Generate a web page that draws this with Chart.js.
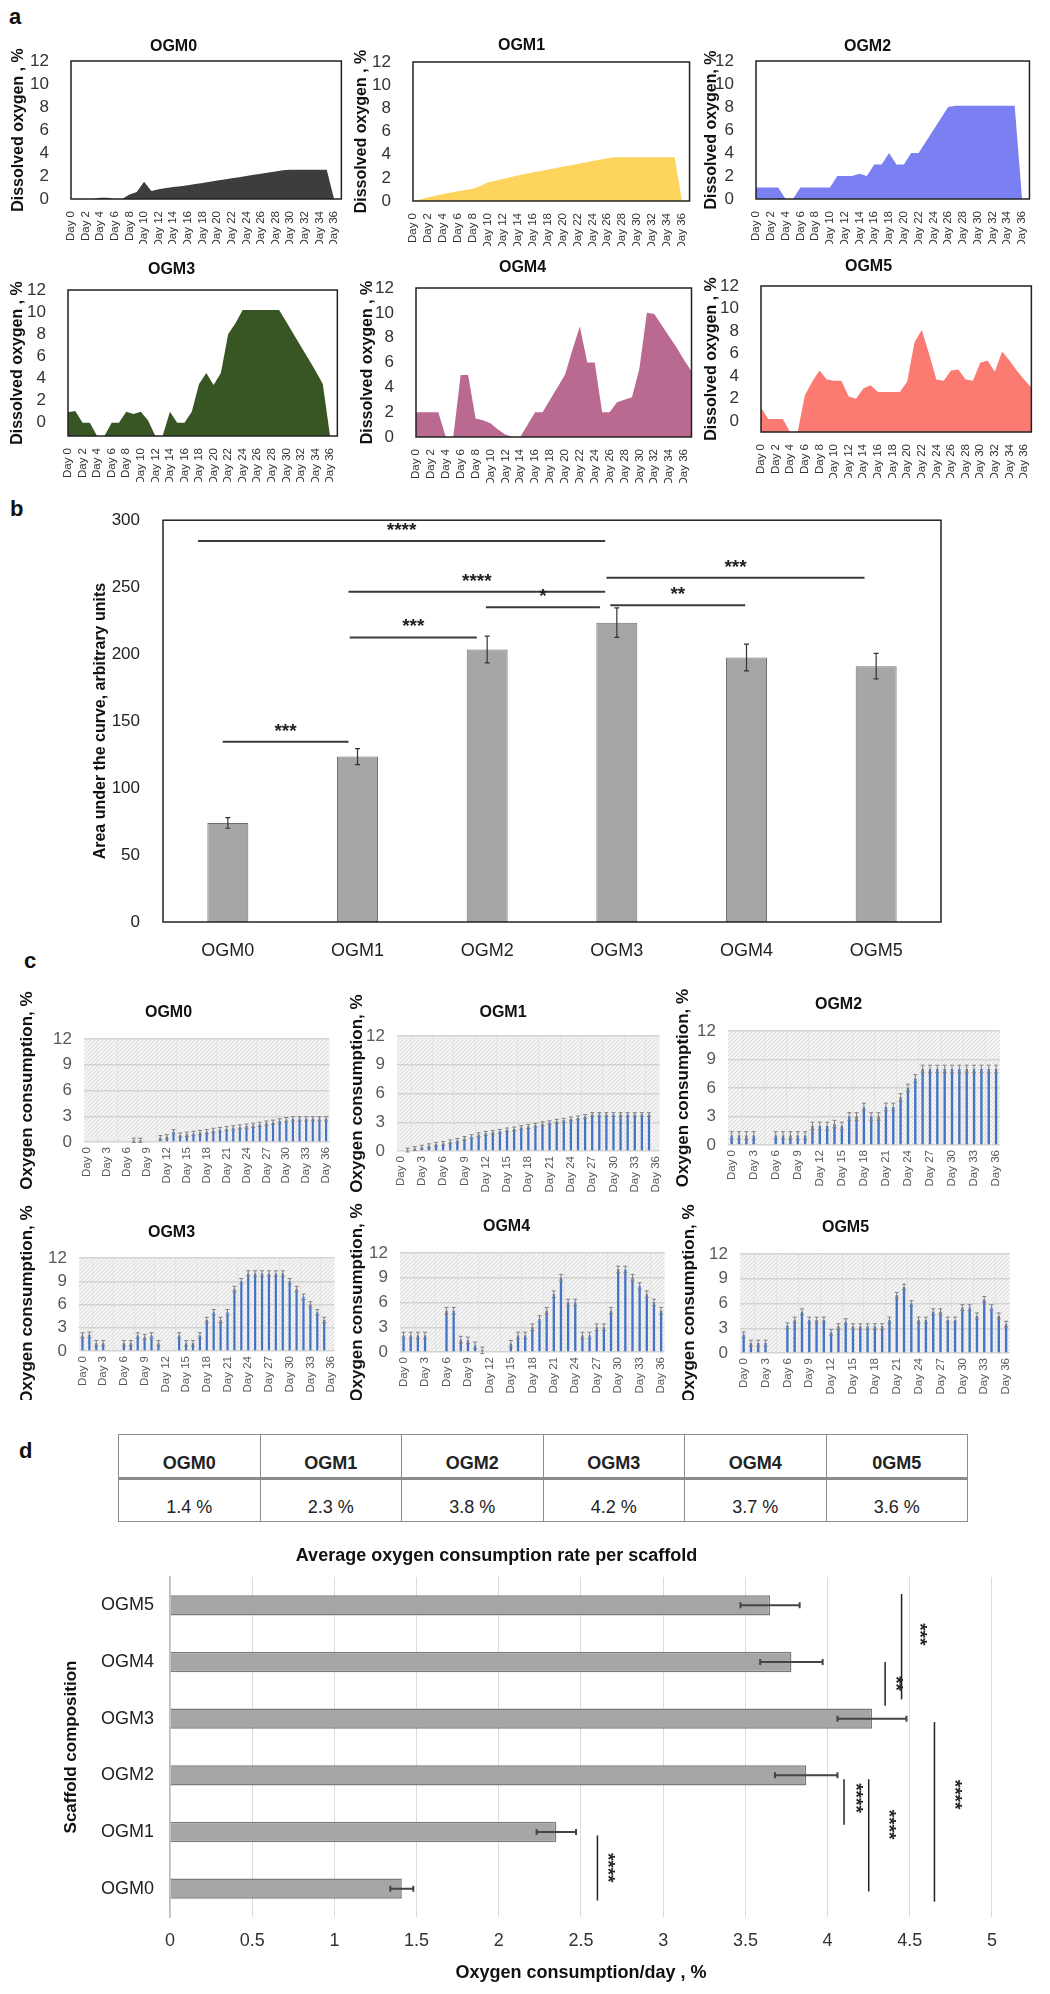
<!DOCTYPE html>
<html>
<head>
<meta charset="utf-8">
<script src="https://cdn.jsdelivr.net/npm/chart.js@4.4.0/dist/chart.umd.min.js"></script>
<style>
html,body{margin:0;padding:0;background:#fff;}
body{width:1050px;height:1994px;position:relative;overflow:hidden;font-family:"Liberation Sans",Arial,sans-serif;}
.box{position:absolute;}
.letter{position:absolute;font:bold 22px "Liberation Sans",Arial,sans-serif;color:#111;line-height:1;}
#tbl{position:absolute;left:118px;top:1434px;width:850px;border-collapse:collapse;table-layout:fixed;
  font-family:"Liberation Sans",Arial,sans-serif;color:#222;}
#tbl th,#tbl td{border:1px solid #8c8c8c;text-align:center;vertical-align:bottom;padding:0 0 3px 0;font-size:18px;}
#tbl th{height:39px;border-bottom:3px solid #8c8c8c;font-weight:bold;}
#tbl td{height:38px;}
</style>
</head>
<body>
<div class="letter" style="left:9px;top:6px">a</div>
<div class="letter" style="left:10px;top:498px">b</div>
<div class="letter" style="left:24px;top:950px">c</div>
<div class="letter" style="left:19px;top:1440px">d</div>
<table id="tbl"><tr id="thead"></tr><tr id="tbody"></tr></table>
<script>
// ---- data ----
const groups = ['OGM0','OGM1','OGM2','OGM3','OGM4','OGM5'];
const days = ['Day 0','Day 1','Day 2','Day 3','Day 4','Day 5','Day 6','Day 7','Day 8','Day 9',
  'Day 10','Day 11','Day 12','Day 13','Day 14','Day 15','Day 16','Day 17','Day 18','Day 19',
  'Day 20','Day 21','Day 22','Day 23','Day 24','Day 25','Day 26','Day 27','Day 28','Day 29',
  'Day 30','Day 31','Day 32','Day 33','Day 34','Day 35','Day 36','Day 37'];
const aTicks = [0,2,4,6,8,10,12];
const cTicks = [0,3,6,9,12];

// panel a : dissolved oxygen, %
const aOGM0 = [0,0,0,0,0.1,0.1,0,0,0.4,0.6,1.5,0.7,0.85,0.95,1.05,1.1,1.2,1.3,1.4,1.5,1.6,1.7,1.8,1.9,2.0,2.1,2.2,2.3,2.4,2.5,2.55,2.55,2.55,2.55,2.55,2.55,0,0];
const aOGM1 = [0,0.15,0.3,0.45,0.6,0.72,0.85,0.95,1.05,1.3,1.6,1.75,1.9,2.05,2.2,2.33,2.45,2.57,2.7,2.82,2.95,3.07,3.2,3.33,3.45,3.57,3.68,3.78,3.78,3.78,3.78,3.78,3.78,3.78,3.78,3.78,0,0];
const aOGM2 = [1,1,1,1,0,0,1,1,1,1,1,2,2,2,2.2,2,3,3,4,3,3,4,4,5,6,7,8,8.1,8.1,8.1,8.1,8.1,8.1,8.1,8.1,8.1,0,0];
const aOGM3 = [0.95,1.05,0,0,-1.2,-1.2,0,0,1,0.8,1,0.2,-1.2,-1.2,1,0,0,1,3.5,4.5,3.4,4.5,8,9,10.2,10.2,10.2,10.2,10.2,10.2,9.1,8,6.9,5.8,4.7,3.5,-1.2,-1.2];
const aOGM4 = [2,2,2,2,0,0,5,5,1.5,1.35,1.1,0.6,0.2,0,0,1,2,2,3,4,5,7,8.9,6,6,2,2,2.8,3,3.2,5.5,10,9.9,9.0,8.1,7.2,6.2,5.3];
const aOGM5 = [1.2,0.2,0.2,0.2,-1,-1,2.3,3.5,4.5,3.7,3.6,3.6,2.2,2.0,2.9,3.2,2.6,2.6,2.6,2.6,3.5,7.0,8.1,6.0,3.7,3.6,4.5,4.6,3.7,3.6,5.2,5.4,4.4,6.2,5.4,4.5,3.7,3.0];
const aMin = [0,0,0,-1.2,0,-0.95];
const aYTitles = ['Dissolved oxygen , %','Dissolved oxygen , %','Dissolved oxygen, %','Dissolved oxygen , %','Dissolved oxygen , %','Dissolved oxygen , %'];

// panel b : area under the curve
const bVals = [74,123.5,203.5,223.5,197.5,191];
const bErr = [4,6,10,11,10,9.5];
const bSig = [
  {from:-0.23, to:2.91, y:284.5, label:'****'},
  {from:0.93, to:2.91, y:246.5, label:'****'},
  {from:1.99, to:2.87, y:235, label:'*'},
  {from:0.94, to:1.92, y:212.5, label:'***'},
  {from:-0.04, to:0.93, y:134.5, label:'***'},
  {from:2.92, to:4.91, y:257, label:'***'},
  {from:2.95, to:3.99, y:236.5, label:'**'}
];

// panel c : oxygen consumption, % (Day 0 - Day 36)
const cOGM0 = [0,0,0,0,0,0,0,0.2,0.2,0,0,0.5,0.6,1.2,0.8,0.9,1.0,1.1,1.2,1.35,1.45,1.55,1.65,1.75,1.85,1.95,2.05,2.2,2.3,2.45,2.6,2.7,2.7,2.7,2.7,2.7,2.7];
const cOGM1 = [0,0.1,0.25,0.4,0.55,0.7,0.8,0.95,1.1,1.3,1.5,1.7,1.85,1.95,2.05,2.2,2.3,2.45,2.55,2.7,2.85,2.95,3.1,3.2,3.35,3.45,3.6,3.8,3.8,3.8,3.8,3.8,3.8,3.8,3.8,3.8,0];
const cOGM2 = [1,1,1,1,0,0,1,1,1,1,1,2,2,2,2.2,2,3,3,4,3,3,4,4,5,6,7,8,8,8,8,8,8,8,8,8,8,8];
const cOGM3 = [2,2.1,1,1,0,0,1,1,2,1.8,2,1,0,0,2,1,1,2,4,5,4,5,8,9,10,10,10,10,10,10,9,8,7,6,5,4,0];
const cOGM4 = [2,2,2,2,0,0,5,5,1.5,1.4,0.8,0.2,0,0,0,1,2,2,3,4,5,7,9,6,6,2,2,3,3,5,10,10,9,8,7,6,5];
const cOGM5 = [2.2,1.2,1.2,1.2,0,0,3.3,4,5,4,4,4,2.5,3.2,3.8,3.2,3.2,3.2,3.2,3.2,4,7,8,6,4,4,5,5,4,4,5.5,5.5,4.5,6.5,5.5,4.5,3.5];
const cErr = [0.25,0.2,0.4,0.35,0.4,0.35];

// panel d : table + average consumption rate
const tableVals = ['1.4 %','2.3 %','3.8 %','4.2 %','3.7 %','3.6 %'];
const tableHeads = ['OGM0','OGM1','OGM2','OGM3','OGM4','0GM5'];
const dVals = [1.41,2.35,3.87,4.27,3.78,3.65];
const dErr = [0.07,0.12,0.19,0.21,0.19,0.18];
const dSig = [
  {x:4.45, from:5.2, to:3.34, label:'***', lx:4.56, ly:4.49},
  {x:4.35, from:4.0, to:3.23, label:'**', lx:4.41, ly:3.62},
  {x:4.1, from:1.93, to:1.13, label:'****', lx:4.17, ly:1.6},
  {x:4.25, from:1.93, to:-0.05, label:'****', lx:4.37, ly:1.13},
  {x:4.65, from:2.94, to:-0.23, label:'****', lx:4.77, ly:1.66},
  {x:2.6, from:0.94, to:-0.21, label:'****', lx:2.66, ly:0.37}
];

// ---- helpers ----
const SANS = "'Liberation Sans', Arial, sans-serif";
Chart.defaults.animation = false;
Chart.defaults.plugins.legend.display = false;
Chart.defaults.plugins.tooltip.enabled = false;

const framePlugin = {
  id:'frame',
  afterDatasetsDraw(chart, args, o){
    if(!o.show) return;
    const {ctx, chartArea:a} = chart;
    ctx.save(); ctx.strokeStyle=o.color; ctx.lineWidth=o.width;
    ctx.strokeRect(a.left, a.top, a.right-a.left, a.bottom-a.top);
    ctx.restore();
  }
};
let hatchPat = null;
const hatchPlugin = {
  id:'hatch',
  beforeDraw(chart, args, o){
    if(!o.show) return;
    const {ctx, chartArea:a} = chart;
    if(!hatchPat){
      const p = document.createElement('canvas'); p.width=4; p.height=4;
      const g = p.getContext('2d');
      g.fillStyle='#f3f3f3'; g.fillRect(0,0,4,4);
      g.strokeStyle='#dcdcdc'; g.lineWidth=1;
      g.beginPath(); g.moveTo(0,4); g.lineTo(4,0); g.stroke();
      hatchPat = ctx.createPattern(p,'repeat');
    }
    ctx.save(); ctx.fillStyle=hatchPat;
    ctx.fillRect(a.left, a.top, a.right-a.left, a.bottom-a.top);
    ctx.restore();
  }
};
const errPlugin = {
  id:'errbars',
  afterDatasetsDraw(chart, args, o){
    if(o.err===undefined) return;
    const {ctx} = chart;
    const vals = chart.data.datasets[0].data;
    const horiz = chart.options.indexAxis==='y';
    const vs = horiz ? chart.scales.x : chart.scales.y;
    ctx.save(); ctx.strokeStyle=o.color; ctx.lineWidth=o.width;
    chart.getDatasetMeta(0).data.forEach((bar,i)=>{
      const e = Array.isArray(o.err) ? o.err[i] : o.err;
      if(!vals[i]) return;
      const lo = vs.getPixelForValue(vals[i]-e), hi = vs.getPixelForValue(vals[i]+e);
      ctx.beginPath();
      if(horiz){
        ctx.moveTo(lo,bar.y); ctx.lineTo(hi,bar.y);
        ctx.moveTo(lo,bar.y-o.cap); ctx.lineTo(lo,bar.y+o.cap);
        ctx.moveTo(hi,bar.y-o.cap); ctx.lineTo(hi,bar.y+o.cap);
      } else {
        ctx.moveTo(bar.x,lo); ctx.lineTo(bar.x,hi);
        ctx.moveTo(bar.x-o.cap,lo); ctx.lineTo(bar.x+o.cap,lo);
        ctx.moveTo(bar.x-o.cap,hi); ctx.lineTo(bar.x+o.cap,hi);
      }
      ctx.stroke();
    });
    ctx.restore();
  }
};
Chart.register(framePlugin, hatchPlugin, errPlugin);

function mount(r){
  const d = document.createElement('div');
  d.className = 'box';
  d.style.left=r.x+'px'; d.style.top=r.y+'px'; d.style.width=r.w+'px'; d.style.height=r.h+'px';
  const c = document.createElement('canvas');
  d.appendChild(c); document.body.appendChild(d);
  return c;
}
// fix the chart area to the wanted pixel box
function build(r, area, titleY, cfg){
  const o = cfg.options;
  o.responsive = true; o.maintainAspectRatio = false;
  o.layout = {autoPadding:false, padding:{left:0, right:r.x+r.w-area.r, top:0, bottom:0}};
  if(titleY!=null){
    const t = o.plugins.title; const lh = t.font.size*1.2;
    t.font.lineHeight = 1.2;
    const pt = titleY - r.y - lh/2;
    t.padding = {top:pt, bottom:area.t - r.y - lh - pt};
  } else o.layout.padding.top = area.t - r.y;
  o.scales.x.afterFit = s => { s.height = r.y + r.h - area.b; };
  o.scales.y.afterFit = s => { s.width = area.l - r.x; };
  return new Chart(mount(r), cfg);
}

// ---- panel a ----
const aSeries = [aOGM0,aOGM1,aOGM2,aOGM3,aOGM4,aOGM5];
const aColors = ['#3d3d3d','#fdd45c','#7a80f2','#375623','#ba6991','#fb7b73'];
const aRects = [{x:0,y:24,w:352,h:220},{x:348,y:24,w:352,h:222},{x:700,y:24,w:340,h:220},
                {x:0,y:248,w:348,h:234},{x:348,y:248,w:354,h:235},{x:700,y:248,w:342,h:230}];
const aAreas = [{l:71,t:61,r:347,b:199},{l:413,t:62,r:695,b:201},{l:756,t:61,r:1035,b:199},
                {l:68,t:290,r:343,b:436},{l:416,t:288,r:697,b:437},{l:761,t:286,r:1037,b:432}];
const aTitleY = [47,46,47,270,268,267];
const aYTitleX = [19,362,712,18,368,712];

aSeries.forEach((vals,k)=>{
  build(aRects[k], aAreas[k], aTitleY[k], {
    type:'line',
    data:{labels:days, datasets:[{data:vals, fill:'start', backgroundColor:aColors[k], borderWidth:0, pointRadius:0, tension:0}]},
    options:{
      plugins:{
        title:{display:true, text:groups[k], color:'#111', font:{family:SANS, size:16, weight:'bold'}},
        frame:{show:true, color:'#222', width:1.5}
      },
      scales:{
        x:{offset:false, grid:{display:false}, border:{display:false},
           ticks:{autoSkip:false, maxRotation:90, minRotation:90, padding:4, color:'#333',
                  font:{family:SANS, size:11.5}, callback:(v,i)=> i%2 ? null : days[i]}},
        y:{min:aMin[k], max:12, grid:{display:false}, border:{display:false},
           afterBuildTicks:s=>{ s.ticks = aTicks.map(v=>({value:v})); },
           ticks:{autoSkip:false, padding:14, color:'#333', font:{family:SANS, size:17}},
           title:{display:true, text:aYTitles[k], color:'#111', font:{family:SANS, size:16, weight:'bold'},
                  padding:{top:aYTitleX[k]-aRects[k].x-9.6, bottom:0}}}
      }
    }
  });
});

// ---- panel b ----
build({x:0,y:495,w:952,h:462}, {l:163,t:511,r:941,b:922}, null, {
  type:'bar',
  data:{labels:groups, datasets:[{data:bVals, backgroundColor:'#a6a6a6', borderColor:'#6f6f6f', borderWidth:1, barPercentage:0.316, categoryPercentage:1}]},
  options:{
    plugins:{frame:{show:true, color:'#222', width:1.5}, errbars:{err:bErr, color:'#333', cap:2.5, width:1.2}},
    scales:{
      x:{grid:{display:false}, border:{display:false},
         ticks:{padding:10, color:'#222', font:{family:SANS, size:18}}},
      y:{min:0, max:300, grid:{display:false}, border:{display:false},
         ticks:{stepSize:50, autoSkip:false, padding:15, color:'#222', font:{family:SANS, size:17}},
         title:{display:true, text:'Area under the curve, arbitrary units', color:'#111',
                font:{family:SANS, size:16, weight:'bold'}, padding:{top:91, bottom:0}}}
    }
  },
  plugins:[{
    id:'sigB',
    afterDatasetsDraw(chart){
      const {ctx, scales:{x,y}} = chart;
      ctx.save(); ctx.strokeStyle='#3a3a3a'; ctx.fillStyle='#222'; ctx.lineWidth=2;
      ctx.font = 'bold 19px '+SANS; ctx.textAlign='center'; ctx.textBaseline='bottom';
      bSig.forEach(s=>{
        const x1=x.getPixelForValue(s.from), x2=x.getPixelForValue(s.to), yy=y.getPixelForValue(s.y);
        ctx.beginPath(); ctx.moveTo(x1,yy); ctx.lineTo(x2,yy); ctx.stroke();
        ctx.fillText(s.label, (x1+x2)/2, yy-1);
      });
      ctx.restore();
    }
  }]
});

// ---- panel c ----
const cDays = days.slice(0,37);
const cSeries = [cOGM0,cOGM1,cOGM2,cOGM3,cOGM4,cOGM5];
const cRects = [{x:0,y:975,w:345,h:220},{x:340,y:975,w:335,h:225},{x:670,y:970,w:345,h:225},
                {x:0,y:1190,w:350,h:210},{x:340,y:1190,w:340,h:210},{x:673,y:1190,w:352,h:210}];
const cAreas = [{l:84,t:1039,r:337,b:1142},{l:397,t:1036,r:666,b:1151},{l:728,t:1031,r:1007,b:1145},
                {l:79,t:1258,r:343,b:1351},{l:400,t:1253,r:673,b:1352},{l:740,t:1254,r:1018,b:1353}];
const cTitleY = [1013,1013,1005,1233,1227,1228];
const cYTitleX = [27,357,683,27,357,689];

cSeries.forEach((vals,k)=>{
  build(cRects[k], cAreas[k], cTitleY[k], {
    type:'bar',
    data:{labels:cDays, datasets:[{data:vals, backgroundColor:'#4472c4', barPercentage:0.32, categoryPercentage:1}]},
    options:{
      plugins:{
        title:{display:true, text:groups[k], color:'#111', font:{family:SANS, size:16, weight:'bold'}},
        hatch:{show:true},
        errbars:{err:cErr[k], color:'#808080', cap:2, width:1}
      },
      scales:{
        x:{grid:{display:true, color:'#e2e2e2', lineWidth:1, drawTicks:false}, border:{display:false},
           ticks:{autoSkip:false, maxRotation:90, minRotation:90, padding:5, color:'#595959',
                  font:{family:SANS, size:11.5}, callback:(v,i)=> i%3 ? null : cDays[i]}},
        y:{min:0, max:12, grid:{color:'#d4d4d4', lineWidth:1.5, drawTicks:false}, border:{display:false},
           afterBuildTicks:s=>{ s.ticks = cTicks.map(v=>({value:v})); },
           ticks:{autoSkip:false, padding:12, color:'#595959', font:{family:SANS, size:17}},
           title:{display:true, text:'Oxygen consumption, %', color:'#111', font:{family:SANS, size:17, weight:'bold'},
                  padding:{top:cYTitleX[k]-cRects[k].x-10.2, bottom:0}}}
      }
    }
  });
});

// ---- panel d : table ----
tableHeads.forEach(h=>{ const th=document.createElement('th'); th.textContent=h; document.getElementById('thead').appendChild(th); });
tableVals.forEach(v=>{ const td=document.createElement('td'); td.textContent=v; document.getElementById('tbody').appendChild(td); });

// ---- panel d : horizontal bars ----
const dRect = {x:0,y:1535,w:1010,h:459};
build(dRect, {l:170,t:1577,r:993,b:1917}, 1556, {
  type:'bar',
  data:{labels:groups, datasets:[{data:dVals, backgroundColor:'#a6a6a6', borderColor:'#7a7a7a', borderWidth:1.5, barPercentage:0.36, categoryPercentage:1}]},
  options:{
    indexAxis:'y',
    plugins:{
      title:{display:true, text:'Average oxygen consumption rate per scaffold', color:'#111', font:{family:SANS, size:18, weight:'bold'}},
      errbars:{err:dErr, color:'#444', cap:3, width:2}
    },
    scales:{
      x:{min:0, max:5, grid:{color:'#dcdcdc', lineWidth:1, drawTicks:false}, border:{display:false},
         ticks:{stepSize:0.5, autoSkip:false, padding:13, color:'#333', font:{family:SANS, size:18}, callback:v=>String(v)},
         title:{display:true, text:'Oxygen consumption/day , %', color:'#111', font:{family:SANS, size:18, weight:'bold'},
                padding:{top:0, bottom:dRect.y+dRect.h-1973-10.8}}},
      y:{reverse:true, grid:{display:false}, border:{display:true, color:'#bdbdbd', width:1.5},
         ticks:{padding:8, color:'#222', font:{family:SANS, size:18}},
         title:{display:true, text:'Scaffold composition', color:'#111', font:{family:SANS, size:17, weight:'bold'},
                padding:{top:71-10.2, bottom:0}}}
    }
  },
  plugins:[{
    id:'sigD',
    afterDatasetsDraw(chart){
      const {ctx, scales:{x,y}} = chart;
      ctx.save(); ctx.strokeStyle='#222'; ctx.fillStyle='#222'; ctx.lineWidth=1.5;
      ctx.font = 'bold 19px '+SANS; ctx.textAlign='center'; ctx.textBaseline='middle';
      dSig.forEach(s=>{
        const xx=x.getPixelForValue(s.x), y1=y.getPixelForValue(s.from), y2=y.getPixelForValue(s.to);
        ctx.beginPath(); ctx.moveTo(xx,y1); ctx.lineTo(xx,y2); ctx.stroke();
        ctx.save(); ctx.translate(x.getPixelForValue(s.lx), y.getPixelForValue(s.ly)); ctx.rotate(Math.PI/2);
        ctx.fillText(s.label, 0, 0); ctx.restore();
      });
      ctx.restore();
    }
  }]
});
</script>
</body>
</html>
